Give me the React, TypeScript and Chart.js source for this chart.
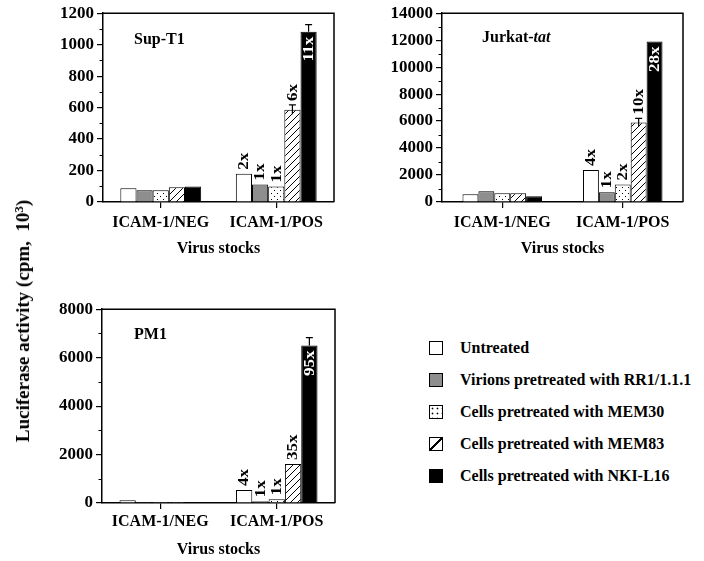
import React, { useEffect, useRef } from 'react';
import { Chart, registerables } from 'chart.js';

Chart.register(...registerables);

const FONT = '"Liberation Serif", "Times New Roman", serif';

const categories = ['ICAM-1/NEG', 'ICAM-1/POS'];
const seriesNames = [
  'Untreated',
  'Virions pretreated with RR1/1.1.1',
  'Cells pretreated with MEM30',
  'Cells pretreated with MEM83',
  'Cells pretreated with NKI-L16',
];

// Sup-T1 (cpm x 10^3)
const supT1Untreated = [87, 179];
const supT1Virions = [74, 111];
const supT1Mem30 = [74, 99];
const supT1Mem83 = [93, 587];
const supT1NkiL16 = [99, 1082];
const supT1Folds = ['2x', '1x', '1x', '6x', '11x'];
const supT1Errors = [0, 0, 0, 30, 45];
const supT1Max = 1200;
const supT1Step = 200;

// Jurkat-tat
const jurkatUntreated = [577, 2380];
const jurkatVirions = [790, 720];
const jurkatMem30 = [650, 1300];
const jurkatMem83 = [650, 5900];
const jurkatNkiL16 = [430, 11900];
const jurkatFolds = ['4x', '1x', '2x', '10x', '28x'];
const jurkatErrors = [0, 0, 0, 300, 0];
const jurkatMax = 14000;
const jurkatStep = 2000;

// PM1
const pm1Untreated = [115, 540];
const pm1Virions = [40, 70];
const pm1Mem30 = [40, 150];
const pm1Mem83 = [40, 1610];
const pm1NkiL16 = [40, 6500];
const pm1Folds = ['4x', '1x', '1x', '35x', '95x'];
const pm1Errors = [0, 0, 0, 0, 330];
const pm1Max = 8000;
const pm1Step = 2000;

function makeDots(): CanvasPattern | string {
  const c = document.createElement('canvas');
  c.width = 6;
  c.height = 6;
  const g = c.getContext('2d');
  if (!g) return '#fff';
  g.fillStyle = '#fff';
  g.fillRect(0, 0, 6, 6);
  g.fillStyle = '#000';
  g.fillRect(1, 1, 1, 1);
  g.fillRect(4, 4, 1, 1);
  return g.createPattern(c, 'repeat') || '#fff';
}

function makeHatch(): CanvasPattern | string {
  const s = 7;
  const c = document.createElement('canvas');
  c.width = s;
  c.height = s;
  const g = c.getContext('2d');
  if (!g) return '#fff';
  g.fillStyle = '#fff';
  g.fillRect(0, 0, s, s);
  g.strokeStyle = '#000';
  g.lineWidth = 1;
  g.beginPath();
  g.moveTo(-1, s + 1);
  g.lineTo(s + 1, -1);
  g.moveTo(-1, 1);
  g.lineTo(1, -1);
  g.moveTo(s - 1, s + 1);
  g.lineTo(s + 1, s - 1);
  g.stroke();
  return g.createPattern(c, 'repeat') || '#fff';
}

type PanelCfg = {
  series: number[][];
  folds: string[];
  errors: number[];
  max: number;
  step: number;
  title: string;
  titleItalic?: string;
  titleDx: number;
  titleDy: number;
  yWidth: number;
  padTop: number;
  padRight: number;
  xHeight: number;
  tickPad: number;
  titlePadBottom: number;
  catPct: number;
};

function buildChart(canvas: HTMLCanvasElement, cfg: PanelCfg) {
  const fills: any[] = ['#ffffff', '#8e8e8e', makeDots(), makeHatch(), '#000000'];
  const font = { family: FONT, size: 16, weight: 'bold' as const };

  const annot = {
    id: 'annot',
    afterDatasetsDraw(chart: any) {
      const ctx = chart.ctx;
      const ys = chart.scales.y;
      ctx.save();
      cfg.series.forEach((vals, i) => {
        const bar = chart.getDatasetMeta(i).data[1];
        if (!bar) return;
        const x = bar.x;
        const v = vals[1];
        let top = bar.y;
        const err = cfg.errors[i];
        ctx.strokeStyle = '#000';
        ctx.lineWidth = 1.2;
        if (err > 0) {
          const yt = ys.getPixelForValue(v + err);
          const yb = i === 4 ? bar.y : ys.getPixelForValue(v - err);
          ctx.beginPath();
          ctx.moveTo(x, yb);
          ctx.lineTo(x, yt);
          ctx.moveTo(x - 3.5, yt);
          ctx.lineTo(x + 3.5, yt);
          ctx.stroke();
          if (i !== 4) top = Math.min(top, yt);
        }
        ctx.save();
        ctx.font = `bold 17px ${FONT}`;
        if (i === 4) {
          ctx.translate(x, bar.y + 5);
          ctx.rotate(-Math.PI / 2);
          ctx.scale(1, 0.8);
          ctx.fillStyle = '#fff';
          ctx.textAlign = 'right';
          ctx.textBaseline = 'middle';
          ctx.fillText(cfg.folds[i], 0, 1);
        } else {
          ctx.translate(x, top - 4);
          ctx.rotate(-Math.PI / 2);
          ctx.scale(1, 0.8);
          ctx.fillStyle = '#000';
          ctx.textAlign = 'left';
          ctx.textBaseline = 'middle';
          ctx.fillText(cfg.folds[i], 0, 1);
        }
        ctx.restore();
      });
      ctx.restore();
    },
    afterDraw(chart: any) {
      const ctx = chart.ctx;
      const a = chart.chartArea;
      const ys = chart.scales.y;
      ctx.save();
      ctx.strokeStyle = '#000';
      ctx.lineWidth = 1.5;
      ctx.beginPath();
      ctx.moveTo(a.left, a.top);
      ctx.lineTo(a.right, a.top);
      ctx.lineTo(a.right, a.bottom);
      ctx.stroke();
      // minor ticks
      ctx.lineWidth = 1.2;
      ctx.beginPath();
      for (let v = cfg.step / 2; v < cfg.max; v += cfg.step) {
        const y = Math.round(ys.getPixelForValue(v)) + 0.5;
        ctx.moveTo(a.left - 3.5, y);
        ctx.lineTo(a.left, y);
      }
      ctx.stroke();
      // panel title
      ctx.fillStyle = '#000';
      ctx.textBaseline = 'middle';
      ctx.textAlign = 'left';
      ctx.font = `bold 16px ${FONT}`;
      const tx = a.left + cfg.titleDx;
      const ty = a.top + cfg.titleDy;
      ctx.fillText(cfg.title, tx, ty);
      if (cfg.titleItalic) {
        const w = ctx.measureText(cfg.title).width;
        ctx.font = `italic bold 16px ${FONT}`;
        ctx.fillText(cfg.titleItalic, tx + w, ty);
      }
      ctx.restore();
    },
  };

  return new Chart(canvas, {
    type: 'bar',
    data: {
      labels: categories,
      datasets: cfg.series.map((vals, i) => ({
        label: seriesNames[i],
        data: vals,
        backgroundColor: fills[i],
        borderColor: '#000',
        borderWidth: 1,
        barPercentage: 1,
        categoryPercentage: cfg.catPct,
      })),
    },
    options: {
      responsive: false,
      animation: false,
      devicePixelRatio: 1,
      layout: { padding: { left: 0, top: cfg.padTop, right: cfg.padRight, bottom: 0 } },
      plugins: { legend: { display: false }, tooltip: { enabled: false } },
      scales: {
        x: {
          grid: {
            display: true,
            drawOnChartArea: false,
            drawTicks: true,
            tickLength: 6,
            offset: false,
            color: '#000',
            lineWidth: 1.2,
          },
          border: { display: true, color: '#000', width: 1.5 },
          ticks: { font, color: '#000', padding: cfg.tickPad, maxRotation: 0 },
          title: {
            display: true,
            text: 'Virus stocks',
            font,
            color: '#000',
            padding: { top: 0, bottom: cfg.titlePadBottom },
          },
          afterFit: (s: any) => {
            s.height = cfg.xHeight;
          },
        },
        y: {
          min: 0,
          max: cfg.max,
          ticks: {
            stepSize: cfg.step,
            font: { family: FONT, size: 17, weight: 'bold' as const },
            color: '#000',
            padding: 3,
            callback: (v: any) => String(v),
          },
          grid: {
            display: true,
            drawOnChartArea: false,
            drawTicks: true,
            tickLength: 6,
            color: '#000',
            lineWidth: 1.2,
          },
          border: { display: true, color: '#000', width: 1.5 },
          afterFit: (s: any) => {
            s.width = cfg.yWidth;
          },
        },
      },
    } as any,
    plugins: [annot],
  });
}

const panels: { left: number; top: number; width: number; height: number; cfg: PanelCfg }[] = [
  {
    left: 0,
    top: 0,
    width: 345,
    height: 265,
    cfg: {
      series: [supT1Untreated, supT1Virions, supT1Mem30, supT1Mem83, supT1NkiL16],
      folds: supT1Folds,
      errors: supT1Errors,
      max: supT1Max,
      step: supT1Step,
      title: 'Sup-T1',
      titleDx: 31,
      titleDy: 27,
      yWidth: 103,
      padTop: 8,
      padRight: 11,
      xHeight: 63,
      tickPad: 5,
      titlePadBottom: 7,
      catPct: 0.7,
    },
  },
  {
    left: 345,
    top: 0,
    width: 359,
    height: 265,
    cfg: {
      series: [jurkatUntreated, jurkatVirions, jurkatMem30, jurkatMem83, jurkatNkiL16],
      folds: jurkatFolds,
      errors: jurkatErrors,
      max: jurkatMax,
      step: jurkatStep,
      title: 'Jurkat-',
      titleItalic: 'tat',
      titleDx: 40,
      titleDy: 25,
      yWidth: 97,
      padTop: 8,
      padRight: 21,
      xHeight: 63,
      tickPad: 5,
      titlePadBottom: 7,
      catPct: 0.66,
    },
  },
  {
    left: 0,
    top: 296,
    width: 345,
    height: 265,
    cfg: {
      series: [pm1Untreated, pm1Virions, pm1Mem30, pm1Mem83, pm1NkiL16],
      folds: pm1Folds,
      errors: pm1Errors,
      max: pm1Max,
      step: pm1Step,
      title: 'PM1',
      titleDx: 32,
      titleDy: 26,
      yWidth: 102,
      padTop: 13,
      padRight: 10,
      xHeight: 58,
      tickPad: 3,
      titlePadBottom: 2,
      catPct: 0.7,
    },
  },
];

const legendSwatches: React.CSSProperties[] = [
  { background: '#fff' },
  { background: '#8e8e8e' },
  {
    backgroundColor: '#fff',
    backgroundImage: 'radial-gradient(circle, #000 0.8px, transparent 1.1px)',
    backgroundSize: '5px 5px',
  },
  {
    background:
      'linear-gradient(to bottom right, #fff calc(50% - 0.8px), #000 calc(50% - 0.8px), #000 calc(50% + 0.8px), #fff calc(50% + 0.8px))',
  },
  { background: '#000' },
];
const legendRowsY = [348, 380, 412, 444, 476];

function Panel({ p }: { p: (typeof panels)[number] }) {
  const ref = useRef<HTMLCanvasElement>(null);
  useEffect(() => {
    if (!ref.current) return;
    const chart = buildChart(ref.current, p.cfg);
    return () => chart.destroy();
  }, []);
  return (
    <canvas
      ref={ref}
      width={p.width}
      height={p.height}
      style={{ position: 'absolute', left: p.left, top: p.top, width: p.width, height: p.height }}
    />
  );
}

export default function App() {
  return (
    <div
      style={{
        position: 'absolute',
        left: 0,
        top: 0,
        width: 704,
        height: 561,
        background: '#fff',
        overflow: 'hidden',
        fontFamily: FONT,
        color: '#000',
      }}
    >
      {panels.map((p, i) => (
        <Panel key={i} p={p} />
      ))}
      <div
        style={{
          position: 'absolute',
          left: 23,
          top: 321,
          transform: 'translate(-50%, -50%) rotate(-90deg)',
          whiteSpace: 'nowrap',
          fontWeight: 'bold',
          fontSize: 19,
          lineHeight: '20px',
        }}
      >
        Luciferase activity (cpm,&nbsp;&nbsp;10<sup style={{ fontSize: 13, verticalAlign: 'top', position: 'relative', top: -4 }}>3</sup>)
      </div>
      {seriesNames.map((name, i) => (
        <React.Fragment key={name}>
          <div
            style={{
              position: 'absolute',
              left: 429,
              top: legendRowsY[i] - 7,
              width: 14,
              height: 14,
              boxSizing: 'border-box',
              border: '1.5px solid #000',
              ...legendSwatches[i],
            }}
          />
          <div
            style={{
              position: 'absolute',
              left: 460,
              top: legendRowsY[i] - 10,
              height: 20,
              lineHeight: '20px',
              fontWeight: 'bold',
              fontSize: 16,
              whiteSpace: 'nowrap',
            }}
          >
            {name}
          </div>
        </React.Fragment>
      ))}
    </div>
  );
}
